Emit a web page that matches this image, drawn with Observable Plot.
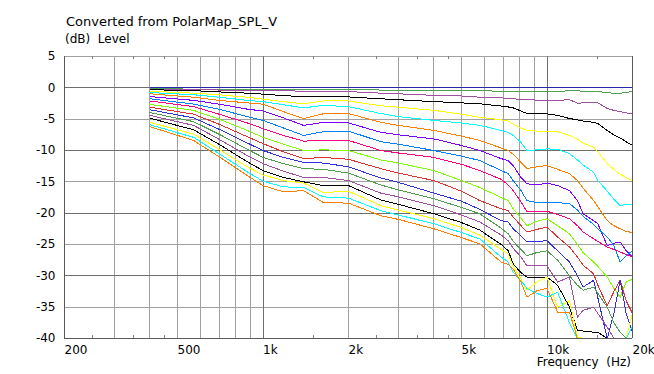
<!DOCTYPE html>
<html><head><meta charset="utf-8">
<script src="https://cdn.jsdelivr.net/npm/d3@7"></script>
<script src="https://cdn.jsdelivr.net/npm/@observablehq/plot@0.6"></script>
<style>
body{margin:0;background:#fff;}
#wrap{position:relative;width:654px;height:374px;font-family:"DejaVu Sans",sans-serif;color:#000;overflow:hidden;}
#wrap svg{position:absolute;left:0;top:0;}
.t{position:absolute;white-space:pre;line-height:1;}
</style></head><body>
<div id="wrap">
<div class="t" style="left:66px;top:15px;font-size:13px">Converted from PolarMap_SPL_V</div>
<div class="t" style="left:65px;top:32.5px;font-size:12px">(dB)  Level</div>
<div class="t" style="right:23px;top:356px;font-size:12px">Frequency  (Hz)</div>
</div>
<script>
const freqs = [400, 570, 700, 880, 1000, 1180, 1390, 1630, 2000, 2600, 3000, 4000, 5000, 5800, 6900, 7300, 7600, 8100, 8500, 9200, 10000, 10900, 12000, 12800, 13400, 14600, 15100, 16300, 17200, 18100, 19000, 20000];

const angles = ["0°","5°","10°","15°","20°","25°","30°","35°","40°","45°","50°","55°","60°","65°","70°","75°","80°","85°","90°"];
const colors = ["#2828a8","#50a050","#a050a0","#000000","#ffff00","#00ffff","#ff8000","#8000ff","#0080ff","#ff0080","#80ff00","#e03030","#3030e0","#50a050","#a050a0","#000000","#ffff00","#00ffff","#ff8000"];

const s0  = [0,0,0,0,0,0,0,0,0,0,0,0,0,0,0,0,0,0,0,0,0,0,0,0,0,0,0,0,0,0,0,0];
const s5  = [-0.15,-0.2,-0.2,-0.25,-0.3,-0.3,-0.3,-0.3,-0.3,-0.35,-0.35,-0.35,-0.35,-0.45,-0.55,-0.55,-0.55,-0.6,-0.6,-0.6,-0.6,-0.6,-0.45,-0.45,-0.6,-0.6,-0.55,-0.8,-0.85,-0.85,-0.75,-0.55];
const s10 = [-0.2,-0.3,-0.35,-0.4,-0.4,-0.45,-0.55,-0.55,-0.6,-0.85,-0.95,-1.2,-1.3,-1.5,-1.6,-1.7,-1.75,-1.85,-1.9,-1.95,-2.0,-2.0,-1.9,-2.45,-2.4,-2.3,-2.4,-3.3,-3.6,-3.8,-4.0,-4.2];
const s15 = [-0.3,-0.45,-0.65,-0.85,-1.0,-1.25,-1.4,-1.4,-1.45,-1.75,-1.9,-2.2,-2.4,-2.55,-2.9,-3.05,-3.2,-3.7,-4.1,-4.15,-4.15,-4.4,-4.9,-5.1,-5.3,-5.5,-5.7,-6.8,-7.5,-8.0,-8.6,-9.2];
const s20 = [-0.55,-0.85,-1.1,-1.5,-1.8,-2.2,-2.55,-2.1,-2.1,-2.85,-3.1,-3.6,-4.2,-4.7,-5.1,-5.3,-5.8,-6.4,-6.8,-6.9,-6.9,-7.0,-7.6,-8.2,-8.8,-9.5,-10.2,-12.1,-13.0,-13.8,-14.3,-14.8];
const s25 = [-0.75,-1.1,-1.5,-2.0,-2.2,-2.7,-3.2,-2.8,-3.0,-4.1,-4.6,-5.2,-5.6,-6.0,-6.8,-7.1,-7.6,-8.7,-10.0,-9.9,-9.75,-9.8,-10.5,-11.5,-12.3,-13.5,-14.8,-16.5,-17.8,-18.8,-18.6,-18.6];
const s30 = [-0.95,-1.5,-2.0,-2.4,-2.6,-3.8,-4.9,-4.15,-4.1,-5.5,-6.0,-6.8,-7.7,-8.4,-9.6,-10.0,-10.6,-11.9,-12.9,-12.6,-12.4,-13.0,-13.7,-14.8,-16.0,-18.0,-19.0,-21.2,-22.0,-22.5,-22.9,-23.1];
const s35 = [-1.4,-2.0,-2.6,-3.4,-3.7,-4.8,-6.0,-5.5,-5.6,-7.1,-7.5,-8.15,-9.2,-10.0,-11.3,-11.6,-12.4,-14.3,-15.3,-15.5,-15.2,-15.6,-16.4,-18.0,-20.1,-21.2,-21.7,-25.2,-24.8,-24.6,-26.0,-27.0];
const s40 = [-1.75,-2.6,-3.4,-4.6,-5.2,-6.4,-7.6,-7.0,-6.9,-8.6,-9.0,-10.0,-10.9,-11.6,-13.2,-13.7,-14.8,-16.4,-18.0,-18.3,-18.3,-18.3,-18.5,-19.5,-20.5,-21.8,-22.5,-23.8,-25.2,-27.8,-26.8,-26.0];
const s45 = [-2.1,-3.0,-4.2,-5.6,-6.5,-7.6,-8.5,-8.4,-8.4,-10.0,-10.4,-11.1,-12.2,-13.2,-14.6,-15.5,-16.4,-18.2,-19.8,-19.8,-19.7,-20.2,-20.9,-22.0,-23.0,-24.1,-24.5,-25.4,-25.8,-26.2,-26.6,-27.0];
const s50 = [-2.65,-3.6,-5.0,-6.8,-7.9,-9.0,-10.0,-9.9,-10.0,-11.5,-12.0,-13.2,-14.8,-15.9,-17.5,-18.0,-19.3,-20.8,-22.0,-21.3,-20.9,-22.0,-23.3,-25.0,-26.3,-27.8,-28.5,-30.2,-32.0,-33.4,-31.0,-30.5];
const s55 = [-3.1,-4.2,-5.8,-7.8,-8.9,-10.2,-11.3,-11.1,-11.4,-12.9,-13.6,-14.8,-16.5,-18.0,-19.3,-19.6,-20.6,-22.0,-23.0,-22.6,-22.2,-23.8,-25.4,-27.0,-28.3,-29.7,-31.5,-34.8,-32.5,-30.7,-34.0,-36.0];
const s60 = [-3.5,-4.8,-6.6,-8.8,-10.0,-11.1,-11.9,-12.0,-12.6,-14.4,-15.1,-16.8,-18.1,-19.4,-21.2,-21.4,-22.5,-23.6,-24.6,-24.5,-24.4,-26.0,-27.8,-30.0,-31.8,-30.7,-33.5,-40.0,-36.0,-30.7,-36.0,-39.0];
const s65 = [-3.95,-5.4,-7.4,-9.8,-11.1,-12.1,-12.9,-13.0,-13.6,-15.5,-16.3,-17.7,-19.1,-20.1,-22.4,-23.3,-24.5,-25.8,-26.8,-26.3,-26.0,-27.5,-30.0,-31.5,-32.3,-31.8,-32.8,-35.0,-37.5,-39.0,-40.0,-40.0];
const s70 = [-4.4,-6.0,-8.2,-10.8,-12.1,-13.3,-14.3,-14.3,-14.8,-16.8,-17.4,-18.8,-20.3,-21.4,-23.5,-24.4,-25.6,-27.0,-28.4,-28.4,-28.4,-31.0,-30.2,-36.6,-35.5,-35.0,-36.0,-38.2,-40.0,-40.0,-40.0,-38.0];
const s75 = [-4.85,-6.7,-9.0,-11.8,-13.2,-14.3,-15.0,-15.6,-15.6,-17.9,-18.6,-20.1,-21.5,-22.7,-25.0,-26.0,-28.1,-29.5,-30.2,-30.2,-30.2,-31.5,-35.0,-38.7,-38.8,-39.0,-39.0,-40.0,-40.0,-40.0,-40.0,-38.0];
const s80 = [-5.5,-7.4,-9.8,-12.6,-13.9,-14.8,-15.2,-16.7,-16.5,-18.8,-19.5,-20.9,-22.3,-23.5,-25.8,-26.5,-28.5,-30.5,-32.3,-31.0,-30.2,-35.0,-34.0,-39.8,-40.0,-40.0,-40.0,-40.0,-40.0,-40.0,-40.0,-36.0];
const s85 = [-5.9,-7.9,-10.5,-13.4,-14.9,-15.8,-15.9,-17.4,-17.6,-19.6,-20.3,-21.7,-23.1,-24.1,-27.0,-27.8,-29.4,-30.8,-32.0,-32.8,-33.4,-32.6,-37.5,-40.0,-40.0,-40.0,-40.0,-40.0,-40.0,-40.0,-40.0,-38.0];
const s90 = [-6.2,-8.4,-11.0,-14.0,-15.6,-16.6,-16.4,-18.3,-18.4,-20.4,-21.0,-22.5,-23.9,-24.9,-27.8,-28.2,-28.9,-31.0,-33.4,-32.4,-32.0,-35.8,-35.8,-40.0,-40.0,-40.0,-40.0,-40.0,-40.0,-40.0,-40.0,-40.0];
const series = [s0,s5,s10,s15,s20,s25,s30,s35,s40,s45,s50,s55,s60,s65,s70,s75,s80,s85,s90];

const yTicks = [5,0,-5,-10,-15,-20,-25,-30,-35,-40];
const yMajor = [0,-10,-20,-30];
const yMinor = [5,-5,-15,-25,-35];
const xTickValues = [200,500,1000,2000,5000,10000,20000];
const xTickLabels = ["200","500","1k","2k","5k","10k","20k"];
const xMinorGrid = [300,400,500,600,700,800,900,2000,3000,4000,5000,6000,7000,8000,9000];
const xMajorGrid = [1000,10000];
const xSmallTicks = [250,350,450,1500,2500,3500,4500,15000];

const marks = [
  Plot.ruleY(yMinor, {stroke:"#a0a0a0", shapeRendering:"crispEdges"}),
  Plot.ruleX(xMinorGrid, {stroke:"#a0a0a0", shapeRendering:"crispEdges"}),
  Plot.ruleY(yMajor, {stroke:"#6e6e6e", shapeRendering:"crispEdges"}),
  Plot.ruleX(xMajorGrid, {stroke:"#6e6e6e", shapeRendering:"crispEdges"}),
  Plot.ruleX(xSmallTicks, {y1:-40, y2:-39.5, stroke:"#808080", shapeRendering:"crispEdges"}),
  Plot.ruleX(xSmallTicks, {y1:5, y2:4.5, stroke:"#808080", shapeRendering:"crispEdges"})
];
series.forEach((vals, i) => {
  const rows = freqs.map((f, j) => ({f, v: vals[j], a: angles[i]}));
  marks.push(Plot.line(rows, {x:"f", y:"v", stroke: colors[i], strokeWidth:1, clip:true, shapeRendering:"crispEdges"}));
});
marks.push(
  Plot.ruleX([200, 20000], {stroke:"#5a5a5a", shapeRendering:"crispEdges"}),
  Plot.ruleY([-40], {stroke:"#5a5a5a", shapeRendering:"crispEdges"}),
  Plot.text(yTicks, {y: d => d, text: d => String(d), frameAnchor:"left", dx:-9, textAnchor:"end", fontSize:12, fill:"#000"}),
  Plot.text(xTickValues, {x: d => d, text: (d, i) => xTickLabels[i], frameAnchor:"bottom", dy:6.5, lineAnchor:"top", textAnchor:"start", fontSize:12, fill:"#000"})
);

const chart = Plot.plot({
  width: 654, height: 374,
  marginLeft: 64, marginRight: 22, marginTop: 56, marginBottom: 36,
  style: {fontFamily: "DejaVu Sans, sans-serif", background: "transparent", overflow: "visible"},
  x: {type: "log", domain: [200, 20000], axis: null},
  y: {domain: [-40, 5], axis: null},
  marks
});
document.getElementById("wrap").prepend(chart);
</script>
</body></html>
